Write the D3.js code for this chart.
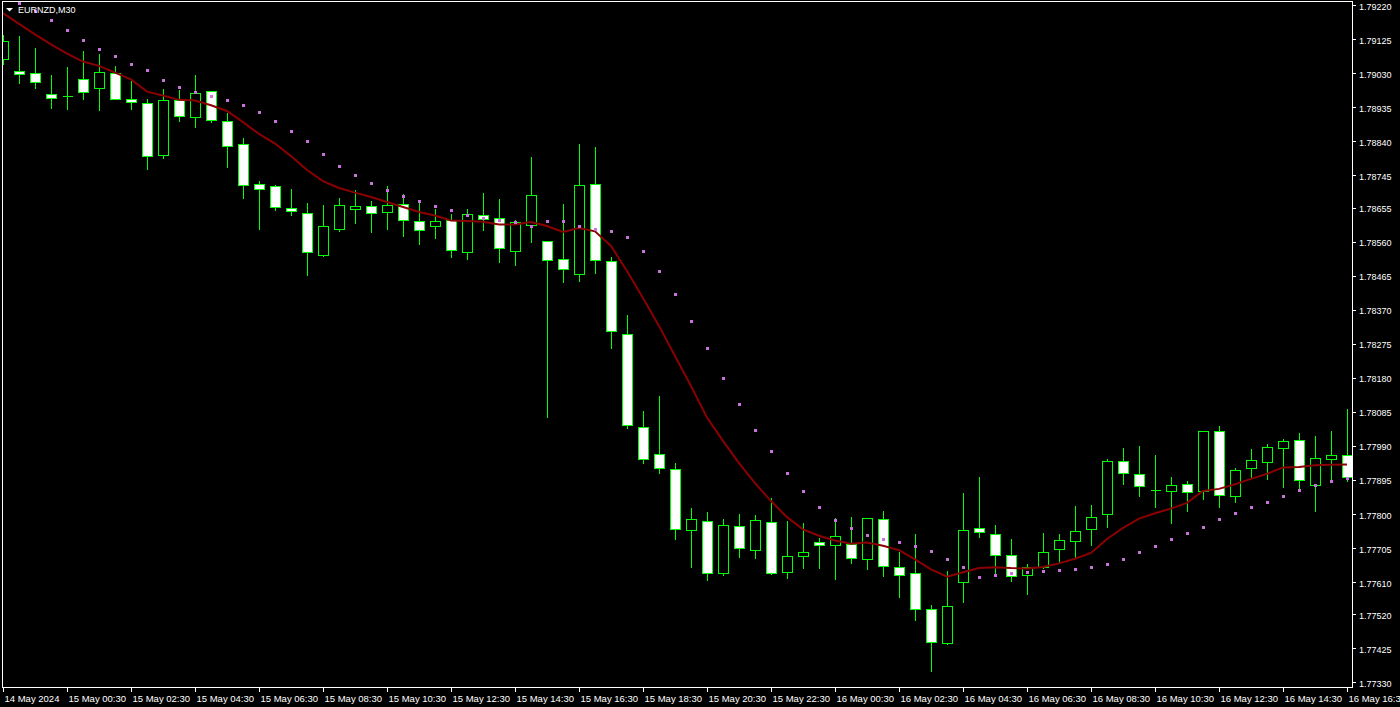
<!DOCTYPE html>
<html>
<head>
<meta charset="utf-8">
<script src="https://d3js.org/d3.v7.min.js"></script>
<style>
  body { margin:0; background:#000; overflow:hidden; }
  svg { display:block; }
  text { font-family: "Liberation Sans", Arial, sans-serif; fill:#fff; }
</style>
</head>
<body>
<svg width="1400" height="707"></svg>
<script>
// EURNZD M30 bars, 14 May 22:30 -> 16 May 16:30
const opens = [1.79069,1.79037,1.79031,1.78972,1.78967,1.79013,1.78988,1.79031,1.78958,1.78946,
  1.78803,1.78956,1.78907,1.78980,1.78896,1.78832,1.78720,1.78715,1.78653,1.78639,
  1.78524,1.78596,1.78652,1.78659,1.78644,1.78664,1.78617,1.78603,1.78620,1.78530,
  1.78634,1.78625,1.78535,1.78607,1.78561,1.78511,1.78469,1.78720,1.78505,1.78302,
  1.78042,1.77967,1.77925,1.77754,1.77779,1.77634,1.77766,1.77699,1.77777,1.77637,
  1.77682,1.77721,1.77712,1.77715,1.77673,1.77785,1.77651,1.77634,1.77534,1.77439,
  1.77609,1.77760,1.77743,1.77685,1.77629,1.77651,1.77701,1.77724,1.77757,1.77799,
  1.77947,1.77911,1.77868,1.77863,1.77883,1.77863,1.78031,1.77849,1.77927,1.77944,
  1.77983,1.78006,1.77880,1.77953,1.77964];
const highs = [1.79137,1.79134,1.79101,1.79025,1.79048,1.79092,1.79084,1.79051,1.79009,1.78958,
  1.78986,1.78984,1.79025,1.78982,1.78918,1.78849,1.78729,1.78717,1.78707,1.78667,
  1.78662,1.78682,1.78704,1.78675,1.78716,1.78693,1.78676,1.78652,1.78638,1.78650,
  1.78696,1.78679,1.78621,1.78796,1.78562,1.78665,1.78833,1.78824,1.78518,1.78355,
  1.78087,1.78129,1.77941,1.77817,1.77805,1.77786,1.77800,1.77796,1.77845,1.77781,
  1.77774,1.77732,1.77788,1.77791,1.77789,1.77807,1.77693,1.77743,1.77546,1.77640,
  1.77858,1.77902,1.77768,1.77729,1.77659,1.77746,1.77743,1.77821,1.77824,1.77953,
  1.77983,1.77989,1.77965,1.77902,1.77891,1.78032,1.78045,1.77927,1.77980,1.77994,
  1.78008,1.78025,1.78017,1.78031,1.78092];
const lows = [1.79056,1.79004,1.78990,1.78934,1.78931,1.78959,1.78929,1.78958,1.78931,1.78764,
  1.78795,1.78898,1.78880,1.78895,1.78769,1.78683,1.78595,1.78649,1.78635,1.78467,
  1.78521,1.78590,1.78613,1.78588,1.78595,1.78577,1.78554,1.78571,1.78518,1.78513,
  1.78594,1.78504,1.78496,1.78560,1.78071,1.78448,1.78451,1.78473,1.78264,1.78041,
  1.77943,1.77915,1.77731,1.77653,1.77616,1.77629,1.77681,1.77678,1.77632,1.77622,
  1.77650,1.77650,1.77619,1.77664,1.77645,1.77628,1.77567,1.77503,1.77362,1.77437,
  1.77553,1.77736,1.77629,1.77614,1.77577,1.77650,1.77662,1.77676,1.77712,1.77763,
  1.77883,1.77849,1.77819,1.77774,1.77807,1.77841,1.77819,1.77833,1.77902,1.77897,
  1.77876,1.77866,1.77807,1.77894,1.77891];
const closes = [1.79119,1.79027,1.79005,1.78960,1.78967,1.78977,1.79034,1.78958,1.78949,1.78798,
  1.78956,1.78912,1.78974,1.78899,1.78826,1.78717,1.78708,1.78656,1.78645,1.78532,
  1.78603,1.78662,1.78659,1.78639,1.78662,1.78620,1.78592,1.78617,1.78536,1.78637,
  1.78623,1.78542,1.78614,1.78690,1.78508,1.78483,1.78717,1.78508,1.78310,1.78047,
  1.77953,1.77927,1.77757,1.77785,1.77634,1.77768,1.77704,1.77782,1.77634,1.77682,
  1.77693,1.77712,1.77738,1.77676,1.77788,1.77654,1.77629,1.77534,1.77442,1.77542,
  1.77754,1.77749,1.77685,1.77626,1.77651,1.77693,1.77726,1.77752,1.77791,1.77947,
  1.77913,1.77877,1.77868,1.77880,1.77860,1.78031,1.77852,1.77922,1.77950,1.77986,
  1.78003,1.77894,1.77955,1.77964,1.77902];

// moving average (dark red line)
const maValues = [1.79198,1.79168,1.79139,1.79111,1.79085,1.79063,1.79051,1.79032,1.79013,1.78979,
  1.78968,1.78956,1.78954,1.78941,1.78925,1.78894,1.78861,1.78834,1.78799,1.78760,
  1.78729,1.78710,1.78697,1.78685,1.78671,1.78657,1.78643,1.78633,1.78619,1.78618,
  1.78616,1.78608,1.78608,1.78615,1.78604,1.78587,1.78598,1.78589,1.78548,1.78478,
  1.78403,1.78325,1.78241,1.78157,1.78069,1.78004,1.77942,1.77886,1.77836,1.77791,
  1.77757,1.77739,1.77726,1.77717,1.77720,1.77711,1.77699,1.77673,1.77645,1.77625,
  1.77637,1.77649,1.77651,1.77649,1.77648,1.77652,1.77662,1.77675,1.77691,1.77730,
  1.77761,1.77787,1.77802,1.77815,1.77831,1.77864,1.77870,1.77883,1.77898,1.77912,
  1.77930,1.77931,1.77936,1.77937,1.77938];

// parabolic SAR (violet dots)
const sarValues = [null,1.79226,1.79204,1.79178,1.79150,1.79122,1.79097,1.79078,1.79055,1.79039,
  1.79011,1.78991,1.78977,1.78966,1.78955,1.78941,1.78921,1.78896,1.78868,1.78840,
  1.78804,1.78771,1.78745,1.78723,1.78704,1.78687,1.78673,1.78659,1.78648,1.78634,
  1.78625,1.78620,1.78614,1.78603,1.78617,1.78617,1.78603,1.78595,1.78589,1.78572,
  1.78533,1.78477,1.78413,1.78338,1.78262,1.78179,1.78106,1.78034,1.77975,1.77913,
  1.77863,1.77819,1.77782,1.77760,1.77740,1.77729,1.77721,1.77710,1.77696,1.77673,
  1.77651,1.77623,1.77629,1.77634,1.77637,1.77640,1.77643,1.77645,1.77651,1.77659,
  1.77673,1.77693,1.77710,1.77729,1.77746,1.77763,1.77785,1.77802,1.77819,1.77833,
  1.77849,1.77866,1.77880,1.77891,1.77900];

const priceTicks = ["1.79220","1.79125","1.79030","1.78935","1.78840","1.78745","1.78655",
  "1.78560","1.78465","1.78370","1.78275","1.78180","1.78085","1.77990","1.77895",
  "1.77800","1.77705","1.77610","1.77520","1.77425","1.77330"];

const timeLabels = ["14 May 2024","15 May 00:30","15 May 02:30","15 May 04:30","15 May 06:30",
  "15 May 08:30","15 May 10:30","15 May 12:30","15 May 14:30","15 May 16:30","15 May 18:30",
  "15 May 20:30","15 May 22:30","16 May 00:30","16 May 02:30","16 May 04:30","16 May 06:30",
  "16 May 08:30","16 May 10:30","16 May 12:30","16 May 14:30","16 May 16:30"];
const barsPerLabel = 4;

const svgWidth = 1400;
const svgHeight = 707;
const plot = {left: 2, top: 1, right: 1352, bottom: 688};

const xScale = d3.scaleLinear()
  .domain([0, opens.length - 1])
  .range([3, 1347]);

const yScale = d3.scaleLinear()
  .domain([+priceTicks[priceTicks.length - 1], +priceTicks[0]])
  .range([682.3, 5.3]);

const py = v => Math.round(yScale(v));
const px = i => Math.round(xScale(i));

const svg = d3.select("svg");
svg.append("rect").attr("width", svgWidth).attr("height", svgHeight).attr("fill", "#000");

svg.append("defs").append("clipPath").attr("id", "plotClip")
  .append("rect")
  .attr("x", plot.left).attr("y", plot.top)
  .attr("width", plot.right - plot.left).attr("height", plot.bottom - plot.top);

const bars = opens.map((o, i) => ({i: i, o: o, h: highs[i], l: lows[i], c: closes[i]}));

const chartG = svg.append("g").attr("clip-path", "url(#plotClip)");

// wicks
chartG.append("g")
  .selectAll("line")
  .data(bars)
  .join("line")
  .attr("x1", d => px(d.i) + 0.5)
  .attr("x2", d => px(d.i) + 0.5)
  .attr("y1", d => py(d.h))
  .attr("y2", d => py(d.l) + 1)
  .attr("stroke", "#00ff00")
  .attr("shape-rendering", "crispEdges");

// bodies
chartG.append("g")
  .selectAll("path")
  .data(bars)
  .join("path")
  .attr("d", d => {
    const x0 = px(d.i) - 4.5, x1 = px(d.i) + 5.5;
    const yt = py(Math.max(d.o, d.c)) + 0.5, yb = py(Math.min(d.o, d.c)) + 0.5;
    return `M${x0},${yt}H${x1}V${yb}H${x0}Z`;
  })
  .attr("fill", d => d.c < d.o ? "#ffffff" : "#000000")
  .attr("stroke", "#00ff00")
  .attr("stroke-width", 1)
  .attr("shape-rendering", "crispEdges");

// moving average
const maLine = d3.line()
  .x((d, i) => xScale(i))
  .y(d => yScale(d));

chartG.append("path")
  .datum(maValues)
  .attr("d", maLine)
  .attr("fill", "none")
  .attr("stroke", "#8b0000")
  .attr("stroke-width", 2);

// SAR dots
chartG.append("g")
  .selectAll("rect")
  .data(sarValues.map((v, i) => ({i: i, v: v})).filter(d => d.v !== null))
  .join("rect")
  .attr("x", d => px(d.i) - 1)
  .attr("y", d => py(d.v) - 1)
  .attr("width", 3)
  .attr("height", 3)
  .attr("fill", "#c873dc")
  .attr("shape-rendering", "crispEdges");

// frame
svg.append("rect")
  .attr("x", plot.left + 0.5).attr("y", plot.top + 0.5)
  .attr("width", plot.right - plot.left).attr("height", plot.bottom - plot.top - 1)
  .attr("fill", "none")
  .attr("stroke", "#ffffff")
  .attr("shape-rendering", "crispEdges");

// price axis
const yAxis = d3.axisRight(yScale)
  .tickValues(priceTicks.map(Number))
  .tickFormat((d, j) => priceTicks[j])
  .tickSize(3)
  .tickPadding(3);

const yAxisG = svg.append("g")
  .attr("transform", `translate(${plot.right + 1},0)`)
  .call(yAxis);
yAxisG.select(".domain").remove();
yAxisG.selectAll("line").attr("stroke", "#fff").attr("shape-rendering", "crispEdges");
yAxisG.selectAll("text")
  .attr("fill", "#fff")
  .attr("dy", "0.45em")
  .style("font-size", "9px")
  .style("font-family", "'Liberation Sans', Arial, sans-serif");

// time axis
const xAxis = d3.axisBottom(xScale)
  .tickValues(d3.range(0, opens.length, barsPerLabel))
  .tickFormat((d, j) => timeLabels[j])
  .tickSize(4)
  .tickPadding(3);

const xAxisG = svg.append("g")
  .attr("transform", `translate(0,${plot.bottom})`)
  .call(xAxis);
xAxisG.select(".domain").remove();
xAxisG.selectAll("line").attr("stroke", "#fff").attr("shape-rendering", "crispEdges");
xAxisG.selectAll("text")
  .attr("fill", "#fff")
  .attr("text-anchor", "start")
  .attr("x", 1)
  .style("font-size", "9.5px")
  .style("font-family", "'Liberation Sans', Arial, sans-serif");

// symbol caption
svg.append("path")
  .attr("d", "M6,8L13,8L9.5,11.5Z")
  .attr("fill", "#fff");
svg.append("text")
  .attr("x", 18)
  .attr("y", 12.5)
  .style("font-size", "9px")
  .text("EURNZD,M30");
</script>
</body>
</html>
